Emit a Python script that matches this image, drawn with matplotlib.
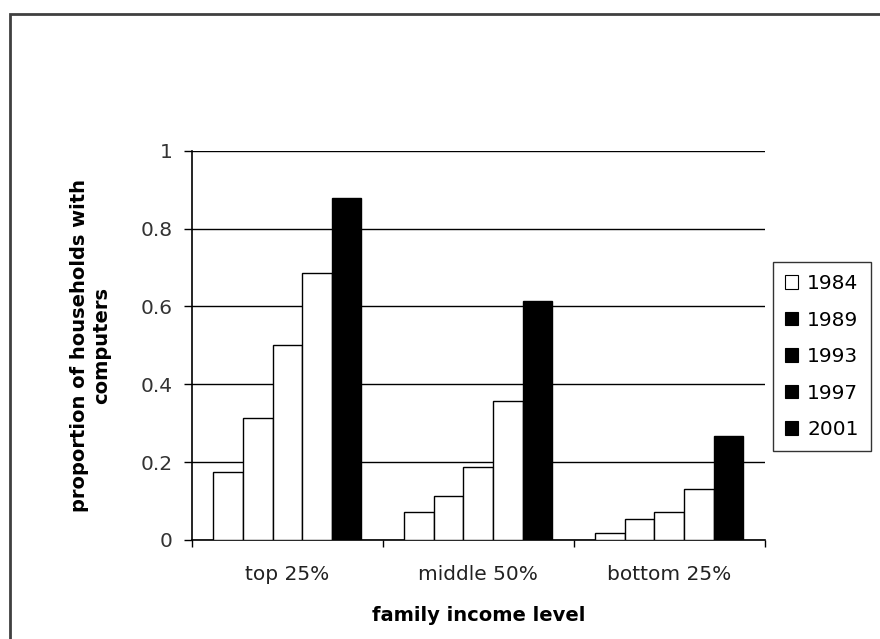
import numpy as np
import matplotlib.pyplot as plt
import matplotlib.patches as mpatches
from matplotlib.patches import Rectangle

plt.rcParams['font.family'] = ['DejaVu Sans']

# 数据
groups = ['top 25%', 'middle 50%', 'bottom 25%']
years = ['1984', '1989', '1993', '1997', '2001']
v1984 = [0.174, 0.071, 0.017]
v1989 = [0.314, 0.113, 0.053]
v1993 = [0.500, 0.187, 0.071]
v1997 = [0.687, 0.356, 0.131]
v2001 = [0.880, 0.614, 0.266]
series = [v1984, v1989, v1993, v1997, v2001]
bar_colors = ['white', 'white', 'white', 'white', 'black']
legend_colors = ['white', 'black', 'black', 'black', 'black']

fig = plt.figure(figsize=(8.8, 6.39), dpi=100)
ax = fig.add_axes([0.218, 0.155, 0.651, 0.609])

# 外框
fig.patches.append(Rectangle((10 / 880, -0.1), 2.0, 1.1 - 14 / 639, transform=fig.transFigure,
                             fill=False, edgecolor='#404040', linewidth=2.0))

x = np.arange(len(groups))
w = 0.155
for i, vals in enumerate(series):
    ax.bar(x + (i - 2) * w, vals, width=w, color=bar_colors[i], edgecolor='black',
           linewidth=1.0, zorder=3)

ax.set_xlim(-0.5, 2.5)
ax.set_ylim(0, 1)
ax.set_yticks([0, 0.2, 0.4, 0.6, 0.8, 1])
ax.set_yticklabels(['0', '0.2', '0.4', '0.6', '0.8', '1'])
ax.yaxis.grid(True, color='black', linewidth=1.0, zorder=0)
ax.set_xticks(x)
ax.set_xticklabels(groups)
ax.set_xticks([-0.5, 0.5, 1.5, 2.5], minor=True)
ax.tick_params(axis='x', which='major', length=0, pad=18, labelsize=14.5, labelcolor='#222222')
ax.tick_params(axis='x', which='minor', length=5, width=1, direction='out')
ax.tick_params(axis='y', length=6, width=1, direction='out', labelsize=14.5, labelcolor='#333333', pad=8)
ax.spines['top'].set_visible(False)
ax.spines['right'].set_visible(False)
ax.spines['left'].set_linewidth(1.2)
ax.spines['bottom'].set_linewidth(1.2)

ax.set_xlabel('family income level', fontsize=14, fontweight='bold', labelpad=16)
ax.set_ylabel('proportion of households with\ncomputers', fontsize=14, fontweight='bold',
              labelpad=21, linespacing=1.2)

# 图例
handles = [mpatches.Patch(facecolor=c, edgecolor='black', linewidth=0.8, label=y)
           for c, y in zip(legend_colors, years)]
leg = fig.legend(handles=handles, loc='upper left', bbox_to_anchor=(773 / 880, 1 - 262 / 639),
                 frameon=True, fancybox=False, fontsize=14.5, handlelength=0.65, handleheight=0.65,
                 handletextpad=0.45, labelspacing=0.87, borderpad=0.6, borderaxespad=0)
leg.get_frame().set_edgecolor('black')
leg.get_frame().set_linewidth(1.0)

fig.savefig('out.png', dpi=100)
